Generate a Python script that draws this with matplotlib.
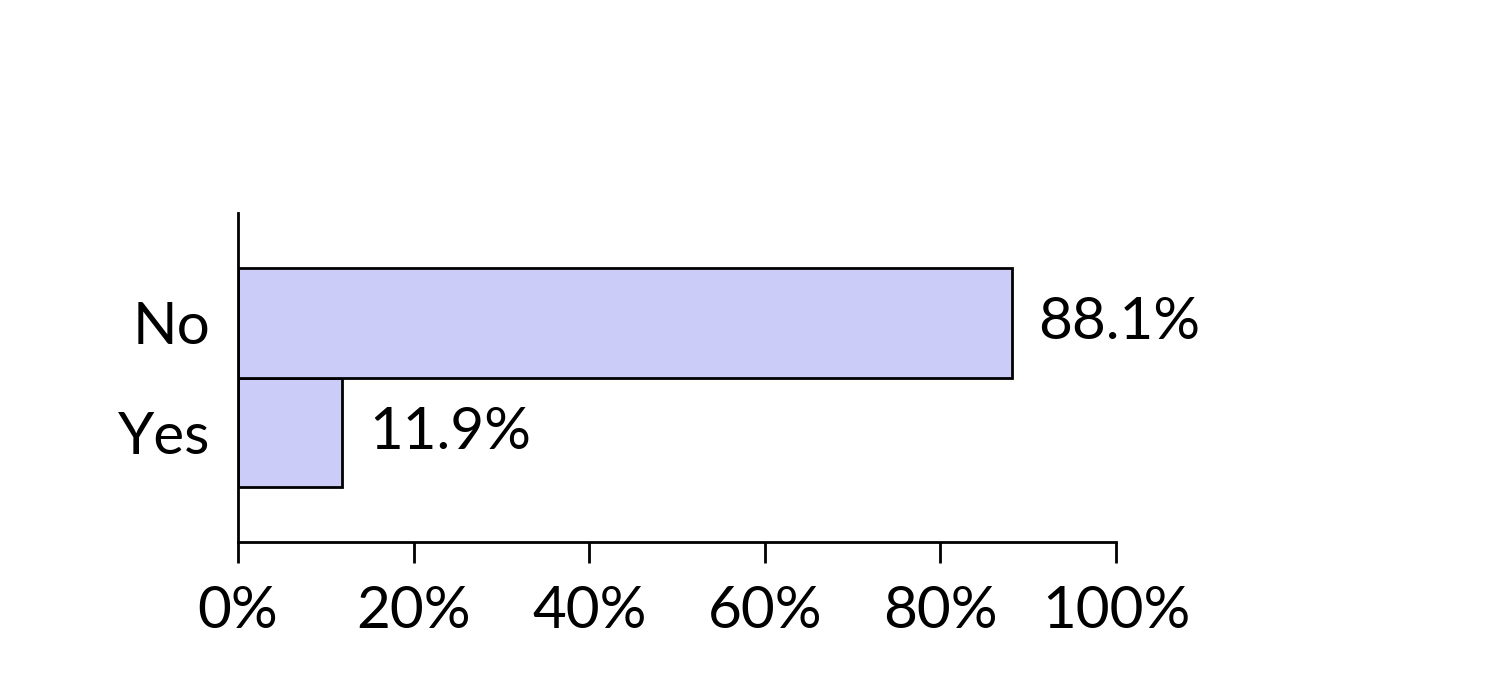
import matplotlib
matplotlib.use("Agg")
import matplotlib.pyplot as plt

categories = ["Yes", "No"]
values = [11.9, 88.1]
xticks = [0, 20, 40, 60, 80, 100]
xtick_labels = ["0%", "20%", "40%", "60%", "80%", "100%"]

plt.rcParams['font.family'] = ['Lato', 'DejaVu Sans']

fig = plt.figure(figsize=(14.92, 6.88), dpi=100)
ax = fig.add_axes([238/1492, (688-542)/688, (1116-238)/1492, (542-213)/688])

ypos = list(range(len(categories)))
ax.barh(ypos, values, height=1.0, color="#CCCCF8", edgecolor="black", linewidth=2)
for y, v in zip(ypos, values):
    ax.text(v + 3, y, f"{v:.1f}%", va="center", ha="left", fontsize=42)

ax.set_xlim(0, 100)
ax.set_ylim(-1, 2)
ax.set_xticks(xticks)
ax.set_xticklabels(xtick_labels, fontsize=42)
ax.set_yticks(ypos)
ax.set_yticklabels(categories, fontsize=42)
ax.tick_params(axis="x", length=15, width=2, pad=16)
ax.tick_params(axis="y", length=0, pad=20)
for s in ["top", "right"]:
    ax.spines[s].set_visible(False)
for s in ["left", "bottom"]:
    ax.spines[s].set_linewidth(2)

fig.savefig("out.png", dpi=100)
